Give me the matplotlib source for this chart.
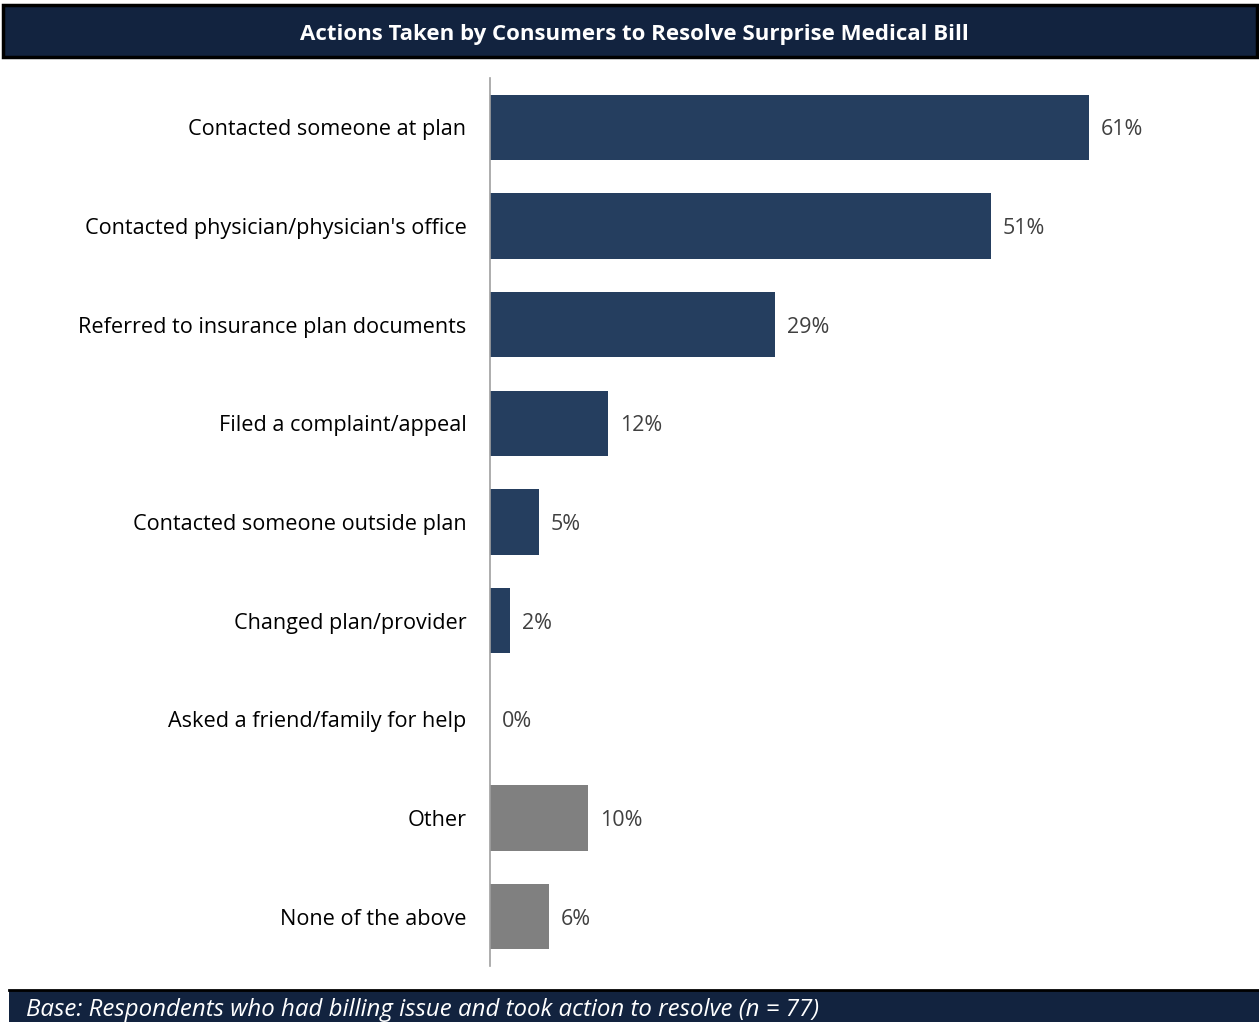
import matplotlib
matplotlib.use("Agg")
import matplotlib.pyplot as plt
from matplotlib.patches import Rectangle

categories = [
    "Contacted someone at plan",
    "Contacted physician/physician's office",
    "Referred to insurance plan documents",
    "Filed a complaint/appeal",
    "Contacted someone outside plan",
    "Changed plan/provider",
    "Asked a friend/family for help",
    "Other",
    "None of the above",
]
values = [61, 51, 29, 12, 5, 2, 0, 10, 6]
groups = ["action"] * 7 + ["other"] * 2

title = "Actions Taken by Consumers to Resolve Surprise Medical Bill"
footnote = "Base: Respondents who had billing issue and took action to resolve (n = 77)"

W, H = 1259, 1022
fig = plt.figure(figsize=(W / 100, H / 100), dpi=100)
plt.rcParams["font.family"] = ["Open Sans", "DejaVu Sans"]

navy = "#253e5f"
gray = "#808080"
header = "#12233f"

# Header band
fig.patches.append(Rectangle((3 / W, 1 - 57 / H), 1254 / W, 52 / H, transform=fig.transFigure,
                             facecolor=header, edgecolor="black", linewidth=2.5, zorder=0))
fig.text(634 / W, 1 - 32 / H, title, ha="center", va="center_baseline", color="white",
         fontsize=16, fontweight="bold")

# Footer band
fig.patches.append(Rectangle((9 / W, 0), (W - 9) / W, 32 / H, transform=fig.transFigure,
                             facecolor=header, edgecolor="none", zorder=0))
fig.lines.append(plt.Line2D([9 / W, 1.0], [32 / H, 32 / H], transform=fig.transFigure,
                            color="black", linewidth=2))
fig.text(26 / W, 15 / H, footnote, ha="left", va="center_baseline", color="white",
         fontsize=17.3, fontstyle="italic")

# Bar chart
px_per_pct = 9.82
ax = fig.add_axes([490 / W, 1 - 966 / H, (W - 490) / W, (966 - 78) / H])
n = len(categories)
ypos = list(range(n))
colors = [navy if g == "action" else gray for g in groups]
ax.barh(ypos, values, height=0.66, color=colors, edgecolor="none")
ax.set_ylim(n - 0.5, -0.5)
ax.set_xlim(0, (W - 490) / px_per_pct)

for y, v in zip(ypos, values):
    ax.annotate(f"{v}%", (v, y), xytext=(12, 0), textcoords="offset pixels",
                ha="left", va="center_baseline", fontsize=15.5, color="#404040")

ax.set_yticks(ypos)
ax.set_yticklabels(categories, fontsize=15.6, color="black", va="center_baseline")
ax.tick_params(axis="y", length=0, pad=17)
ax.set_xticks([])
for side in ["top", "right", "bottom"]:
    ax.spines[side].set_visible(False)
ax.spines["left"].set_color("#a0a0a0")
ax.spines["left"].set_linewidth(1.2)
ax.patch.set_alpha(0)

fig.savefig("out.png", dpi=100)
